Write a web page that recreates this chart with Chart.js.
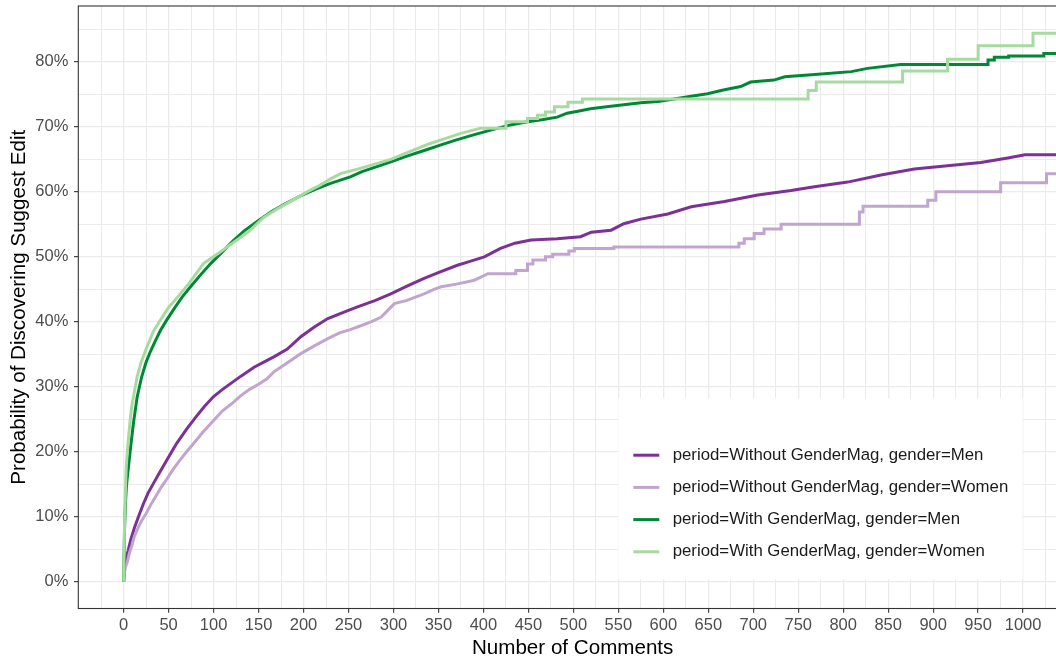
<!DOCTYPE html>
<html>
<head>
<meta charset="utf-8">
<script src="https://cdn.jsdelivr.net/npm/chart.js@4.4.1/dist/chart.umd.min.js"></script>
<style>
html,body{margin:0;padding:0;background:#fff;overflow:hidden;width:1056px;height:661px;}
#wrap{position:absolute;left:0;top:0;width:1067px;height:661px;}
canvas{display:block;}
</style>
</head>
<body>
<div id="wrap"><canvas id="c" width="1067" height="661"></canvas></div>
<script>
// ---- data; a repeated x marks a vertical jump ----
const seriesLabels = [
  'period=Without GenderMag, gender=Men',
  'period=Without GenderMag, gender=Women',
  'period=With GenderMag, gender=Men',
  'period=With GenderMag, gender=Women'
];
const seriesColors = ['#7b3294', '#c2a5cf', '#008837', '#a6dba0'];

const withoutMenX = [0,1,2,3,5,8,12,17,22,27,33,40,50,59,70,80,90,100,110,120,130,145,160,167,182,197,212,227,245,260,280,297,315,334,352,371,385,401,419,435,453,482,508,520,542,556,575,605,631,668,705,742,768,805,842,879,916,953,983,1002,1060];
const withoutMenY = [0,2,3,3.8,4.8,6.5,8.3,10.2,12,13.6,15.1,16.8,19.2,21.3,23.5,25.3,27,28.5,29.6,30.6,31.6,33,34.1,34.6,35.8,37.7,39.2,40.5,41.5,42.3,43.3,44.3,45.5,46.7,47.7,48.7,49.3,50,51.3,52.1,52.6,52.8,53.1,53.8,54.1,55.1,55.8,56.6,57.7,58.5,59.5,60.2,60.8,61.5,62.6,63.5,64,64.5,65.2,65.7,65.7];

const withoutWomenX = [0,1,2,4,6,9,12,16,20,25,30,36,42,48,55,62,70,78,88,100,110,122,130,140,150,159,167,180,197,212,227,240,252,260,275,286,294,301,315,334,345,353,370,390,405,436,436,449,449,455,455,469,469,477,477,495,495,501,501,545,545,684,684,690,690,701,701,712,712,731,731,818,818,822,822,894,894,903,903,975,975,1026,1026,1060];
const withoutWomenY = [0,1.5,2.3,3,4.2,5.5,7,8.3,9.4,10.5,11.8,13.2,14.6,15.8,17.3,18.6,20,21.3,23,24.8,26.3,27.6,28.6,29.6,30.4,31.2,32.3,33.5,35.1,36.3,37.4,38.3,38.8,39.2,40,40.7,41.8,42.8,43.3,44.3,45,45.4,45.8,46.4,47.4,47.4,47.9,47.9,48.9,48.9,49.5,49.5,50,50,50.4,50.4,50.9,50.9,51.3,51.3,51.5,51.5,52.1,52.1,52.8,52.8,53.6,53.6,54.3,54.3,55,55,56.9,56.9,57.8,57.8,58.7,58.7,60,60,61.4,61.4,62.8,62.8];

const withMenX = [0,1,2,3,4,6,8,11,15,20,25,30,35,41,48,56,65,75,86,97,110,122,134,150,165,180,197,215,230,241,252,265,280,297,315,335,352,370,390,408,430,449,465,482,493,505,519,537,556,575,594,612,631,649,668,686,697,723,735,772,809,827,864,961,961,968,968,984,984,1023,1023,1060];
const withMenY = [0,8,12,14.5,16,18.5,21,24.5,28.4,31.5,33.8,35.5,37,38.7,40.3,42,43.8,45.5,47.3,49,50.8,52.5,54,55.6,57,58.2,59.4,60.5,61.3,61.8,62.3,63.1,63.8,64.6,65.5,66.4,67.2,68,68.8,69.5,70.3,70.8,71.1,71.5,72.1,72.4,72.8,73.1,73.4,73.7,73.9,74.3,74.7,75.1,75.7,76.2,76.9,77.2,77.7,78.1,78.5,79,79.6,79.6,80.3,80.3,80.7,80.7,80.9,80.9,81.3,81.3];

const withWomenX = [0,1,2,3,5,7,9,11,15,19,25,33,42,50,60,72,89,105,126,140,155,170,185,204,218,230,241,260,280,297,320,340,353,375,397,408,425,425,449,449,460,460,469,469,479,479,494,494,510,510,761,761,770,770,866,866,916,916,950,950,1011,1011,1060];
const withWomenY = [0,9,14,18,21.5,24.5,27,28.5,31.5,33.6,35.8,38.5,40.5,42.2,43.8,45.8,49,50.5,52.6,54,56,57.3,58.5,60,61,62,62.8,63.5,64.3,65,66.3,67.4,68,69,69.8,69.8,69.8,70.8,70.8,71.3,71.3,71.8,71.8,72.3,72.3,73.1,73.1,73.8,73.8,74.3,74.3,75.6,75.6,76.9,76.9,78.6,78.6,80.4,80.4,82.5,82.5,84.4,84.4];

const xTickStep = 25, xTickFirst = -25, xTickLast = 1025, xLabelStep = 50;
const yTickStep = 5, yTickFirst = 0, yTickLast = 85, yLabelStep = 10;
const xTitle = 'Number of Comments';
const yTitle = 'Probability of Discovering Suggest Edit';

// ---- build chart ----
const FONT = "'Liberation Sans', Arial, Helvetica, sans-serif";
function pts(xs, ys){ return xs.map((x,i)=>({x:x, y:ys[i]})); }
const seriesXs = [withoutMenX, withoutWomenX, withMenX, withWomenX];
const seriesYs = [withoutMenY, withoutWomenY, withMenY, withWomenY];
const drawOrder = [3,2,1,0]; // later groups drawn on top (ggplot order)
const datasets = seriesLabels.map((lab,i)=>({
  label: lab,
  data: pts(seriesXs[i], seriesYs[i]),
  borderColor: seriesColors[i],
  backgroundColor: seriesColors[i],
  borderWidth: 3,
  pointRadius: 0,
  tension: 0,
  fill: false,
  order: drawOrder[i]
}));

const panelPlugin = {
  id: 'panel',
  afterDatasetsDraw(chart){
    const ctx = chart.ctx, a = chart.chartArea;
    ctx.save();
    // legend box
    const bx = 618.3, by = 398.3, bw = 404.4, bh = 181;
    ctx.fillStyle = '#ffffff';
    ctx.fillRect(bx, by, bw, bh);
    ctx.font = '16.8px ' + FONT;
    ctx.textBaseline = 'middle';
    ctx.textAlign = 'left';
    seriesLabels.forEach((lab,i)=>{
      const y = 455.2 + i*32.2;
      ctx.strokeStyle = seriesColors[i];
      ctx.lineWidth = 3;
      ctx.lineCap = 'butt';
      ctx.beginPath(); ctx.moveTo(633.3, y); ctx.lineTo(659.3, y); ctx.stroke();
      ctx.fillStyle = '#1a1a1a';
      ctx.fillText(lab, 672.7, y);
    });
    // panel border
    ctx.strokeStyle = '#333333';
    ctx.lineWidth = 1.1;
    ctx.strokeRect(a.left, a.top, a.right - a.left, a.bottom - a.top);
    ctx.restore();
  }
};

new Chart(document.getElementById('c'), {
  type: 'line',
  data: { datasets: datasets },
  options: {
    responsive: false,
    animation: false,
    devicePixelRatio: 1,
    layout: { padding: { top: 6, left: 0, right: 0, bottom: 0 } },
    plugins: { legend: { display: false }, tooltip: { enabled: false } },
    scales: {
      x: {
        type: 'linear',
        min: -50.4,
        max: 1048.8,
        afterBuildTicks(scale){
          const t = [];
          for (let v = xTickFirst; v <= xTickLast; v += xTickStep) t.push({value: v});
          scale.ticks = t;
        },
        afterFit(scale){ scale.height = 52.5; scale.paddingLeft = 0; scale.paddingRight = 0; },
        ticks: {
          autoSkip: false, maxRotation: 0, minRotation: 0,
          padding: 3,
          color: '#4d4d4d',
          font: { family: FONT, size: 16.5 },
          callback: (v)=> (v % xLabelStep === 0 && v >= 0 && v <= 1000) ? String(v) : ''
        },
        grid: {
          color: '#ebebeb',
          lineWidth: (c)=> (c.tick && c.tick.value % xLabelStep === 0) ? 1.3 : 1.0,
          tickLength: 4.3,
          tickWidth: 1.1,
          tickColor: (c)=> (c.tick && c.tick.value % xLabelStep === 0 && c.tick.value >= 0) ? '#333333' : 'rgba(0,0,0,0)'
        },
        border: { display: false },
        title: {
          display: true, text: xTitle, color: '#000000',
          font: { family: FONT, size: 20.6 },
          padding: { top: 2.7, bottom: 0 }
        }
      },
      y: {
        type: 'linear',
        min: -4.12,
        max: 88.6,
        afterBuildTicks(scale){
          const t = [];
          for (let v = yTickFirst; v <= yTickLast; v += yTickStep) t.push({value: v});
          scale.ticks = t;
        },
        afterFit(scale){ scale.width = 78.3; scale.paddingTop = 0; scale.paddingBottom = 0; },
        ticks: {
          autoSkip: false,
          padding: 5.7,
          color: '#4d4d4d',
          font: { family: FONT, size: 16.5 },
          callback: (v)=> (v % yLabelStep === 0) ? v + '%' : ''
        },
        grid: {
          color: '#ebebeb',
          lineWidth: (c)=> (c.tick && c.tick.value % yLabelStep === 0) ? 1.3 : 1.0,
          tickLength: 4.3,
          tickWidth: 1.1,
          tickColor: (c)=> (c.tick && c.tick.value % yLabelStep === 0) ? '#333333' : 'rgba(0,0,0,0)'
        },
        border: { display: false },
        title: {
          display: true, text: yTitle, color: '#000000',
          font: { family: FONT, size: 20.6 },
          padding: { top: 7, bottom: 0 }
        }
      }
    }
  },
  plugins: [panelPlugin]
});
</script>
</body>
</html>
